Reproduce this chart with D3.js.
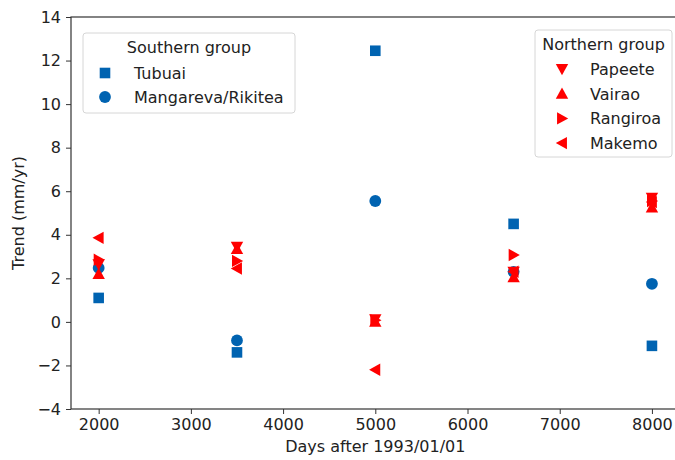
<!DOCTYPE html>
<meta charset="utf-8">
<style>
  body { margin: 0; background: #fff; }
  text { font-family: "DejaVu Sans", sans-serif; }
</style>
<body>
<svg width="675" height="460"></svg>
</body>
<script src="https://d3js.org/d3.v7.min.js"></script>
<script>

// days after 1993/01/01
var days = [2000, 3500, 5000, 6500, 8000];

// trend (mm/yr), southern group
var tubuai    = [1.1, -1.4, 12.45, 4.5, -1.1];
var mangareva = [2.48, -0.85, 5.55, 2.3, 1.75];

// trend (mm/yr), northern group
var papeete  = [2.65, 3.45, 0.12, 2.3, 5.7];
var vairao   = [2.2, 3.35, 0.0, 2.05, 5.25];
var rangiroa = [2.85, 2.8, 0.08, 3.07, 5.55];
var makemo   = [3.86, 2.45, -2.2, 2.3, 5.5];

var xTicks = [2000, 3000, 4000, 5000, 6000, 7000, 8000];
var yTicks = [-4, -2, 0, 2, 4, 6, 8, 10, 12, 14];

var blue = "#0063b1", red = "#ff0000";
var fs = 16;

var southern = [
  {name: "Tubuai", values: tubuai, shape: "square", color: blue},
  {name: "Mangareva/Rikitea", values: mangareva, shape: "circle", color: blue}
];
var northern = [
  {name: "Papeete", values: papeete, shape: "down", color: red},
  {name: "Vairao", values: vairao, shape: "up", color: red},
  {name: "Rangiroa", values: rangiroa, shape: "right", color: red},
  {name: "Makemo", values: makemo, shape: "left", color: red}
];

var svg = d3.select("svg"),
    plotL = 71, plotR = 679.6, plotT = 17, plotB = 409;

var x = d3.scaleLinear().domain([1700, 8300]).range([plotL, plotR]);
var y = d3.scaleLinear().domain([-4, 14]).range([plotB, plotT]);

// marker path centred on 0,0
function marker(shape) {
  var r = 6.2;
  if (shape == "square") return "M-5.3,-5.3H5.3V5.3H-5.3Z";
  if (shape == "circle") return d3.symbol().type(d3.symbolCircle).size(Math.PI * 5.9 * 5.9)();
  var pts = {
    up:    [[0, -r], [r, r * 0.8], [-r, r * 0.8]],
    down:  [[0, r], [r, -r * 0.8], [-r, -r * 0.8]],
    right: [[r, 0], [-r * 0.8, -r], [-r * 0.8, r]],
    left:  [[-r, 0], [r * 0.8, -r], [r * 0.8, r]]
  }[shape];
  return "M" + pts.join("L") + "Z";
}

// axes
var xAxis = svg.append("g")
    .attr("transform", "translate(0," + plotB + ")")
    .call(d3.axisBottom(x).tickValues(xTicks).tickFormat(d3.format("d"))
      .tickSizeOuter(0).tickSize(5).tickPadding(5));
var yAxis = svg.append("g")
    .attr("transform", "translate(" + plotL + ",0)")
    .call(d3.axisLeft(y).tickValues(yTicks).tickSizeOuter(0).tickSize(5).tickPadding(5)
      .tickFormat(d => d < 0 ? "\u2212" + Math.abs(d) : d));

[xAxis, yAxis].forEach(function(g) {
  g.select(".domain").remove();
  g.selectAll("line").attr("stroke", "#333");
  g.selectAll("text").attr("font-size", fs).attr("fill", "#222")
    .style("font-family", "DejaVu Sans");
});

// frame
svg.append("rect")
    .attr("x", plotL).attr("y", plotT)
    .attr("width", plotR - plotL).attr("height", plotB - plotT)
    .attr("fill", "none").attr("stroke", "#333").attr("stroke-width", 1.2);

svg.append("text")
    .attr("x", (plotL + plotR) / 2).attr("y", 452)
    .attr("text-anchor", "middle").attr("font-size", fs).attr("fill", "#222")
    .text("Days after 1993/01/01");
svg.append("text")
    .attr("transform", "translate(24," + (plotT + plotB) / 2 + ") rotate(-90)")
    .attr("text-anchor", "middle").attr("font-size", fs).attr("fill", "#222")
    .text("Trend (mm/yr)");

// points
southern.concat(northern).forEach(function(s) {
  svg.append("g").selectAll("path")
    .data(s.values)
    .join("path")
      .attr("transform", (d, i) => "translate(" + x(days[i]) + "," + y(d) + ")")
      .attr("d", marker(s.shape))
      .attr("fill", s.color);
});

// legends
function legend(items, title, bx, by, bw, bh, mx, tx, rowY, step) {
  var g = svg.append("g");
  g.append("rect")
    .attr("x", bx).attr("y", by).attr("width", bw).attr("height", bh)
    .attr("rx", 3).attr("fill", "#fff").attr("fill-opacity", 0.8)
    .attr("stroke", "#d6d6d6");
  g.append("text")
    .attr("x", bx + bw / 2).attr("y", by + 20)
    .attr("text-anchor", "middle").attr("font-size", fs).attr("fill", "#222")
    .text(title);
  items.forEach(function(s, i) {
    var yy = rowY + i * step;
    g.append("path")
      .attr("transform", "translate(" + mx + "," + yy + ")")
      .attr("d", marker(s.shape)).attr("fill", s.color);
    g.append("text")
      .attr("x", tx).attr("y", yy + 6)
      .attr("font-size", fs).attr("fill", "#222")
      .text(s.name);
  });
}

legend(southern, "Southern group", 83, 33, 212, 80, 105, 134, 73, 24);
legend(northern, "Northern group", 535, 30, 137, 127, 562, 590, 69, 24.7);

</script>
